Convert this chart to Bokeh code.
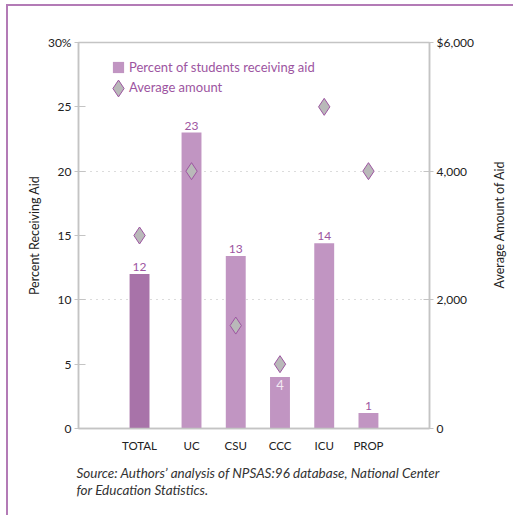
import math
from bokeh.plotting import figure
from bokeh.models import (FactorRange, Range1d, LinearAxis, FixedTicker, Legend, LegendItem,
                          ColumnDataSource, Title, Label)
from bokeh.core.properties import value
from bokeh.embed import file_html
from bokeh.resources import INLINE

# ---- data ----
categories = ["TOTAL", "UC", "CSU", "CCC", "ICU", "PROP"]
pct_receiving = [12, 23, 13.4, 4, 14.4, 1.2]
avg_amount = [3000, 4000, 1600, 1000, 5000, 4000]
pct_ticks = [0, 5, 10, 15, 20, 25, 30]
amount_ticks = [0, 2000, 4000, 6000]
pct_tick_labels = {30: "30%"}
amount_tick_labels = {0: "0", 2000: "2,000", 4000: "4,000", 6000: "$6,000"}
inside_label_cats = ["CCC"]
series_names = ["Percent of students receiving aid", "Average amount"]
axis_titles = ["Percent Receiving Aid", "Average Amount of Aid"]
source_note = "Source:  Authors\u2019 analysis of NPSAS:96 database, National Center\nfor Education Statistics."

FONT = "Lato"
PURPLE_TXT = "#9d55a1"
BAR = "#c195c2"
BAR_TOTAL = "#a873a9"
AXIS_GRAY = "#c4c4c4"
FRAME_PURPLE = "#b37bb6"

groups = ["" if c == "TOTAL" else " " for c in categories]
factors = list(zip(groups, categories))

p = figure(width=507, height=511,
           x_range=FactorRange(factors=factors, group_padding=0.175,
                               range_padding=0.88, range_padding_units="absolute"),
           y_range=Range1d(0, 30),
           output_backend="svg", toolbar_location=None,
           min_border_left=70, min_border_right=86, min_border_top=36, min_border_bottom=89,
           styles={"margin-left": "6px", "margin-top": "4px",
                   "border-left": f"2px solid {FRAME_PURPLE}",
                   "border-top": f"2px solid {FRAME_PURPLE}"})
p.extra_y_ranges = {"amt": Range1d(0, 6000)}

p.outline_line_color = AXIS_GRAY
p.outline_line_width = 1.5
p.background_fill_color = "white"
p.border_fill_color = "white"

colors = [BAR_TOTAL if c == "TOTAL" else BAR for c in categories]
labels_out = ["" if c in inside_label_cats else str(int(round(v))) for c, v in zip(categories, pct_receiving)]
labels_in = [str(int(round(v))) if c in inside_label_cats else "" for c, v in zip(categories, pct_receiving)]

src = ColumnDataSource(dict(x=factors, pct=pct_receiving, amt=avg_amount, color=colors,
                            lo=labels_out, li=labels_in))

bars = p.vbar(x="x", top="pct", width=0.45, source=src, fill_color="color", line_color=None)

p.text(x="x", y="pct", text="lo", source=src, text_align="center", text_baseline="bottom",
       y_offset=-3, text_color=PURPLE_TXT, text_font=value(FONT), text_font_size="12px")
p.text(x="x", y="pct", text="li", source=src, text_align="center", text_baseline="top",
       y_offset=3, text_color="#f3eaf3", text_font=value(FONT), text_font_size="13px")

dia = p.scatter(x="x", y="amt", source=src, y_range_name="amt", marker="diamond", size=17,
                fill_color="#b9b9b9", line_color="#9d55a1", line_width=1)
# empty renderer: used only so a legend row can show text without a glyph
text_only = p.scatter(x=[], y=[], size=0, fill_alpha=0, line_alpha=0)

# axes
p.xaxis.major_tick_line_color = None
p.xaxis.minor_tick_line_color = None
p.xaxis.axis_line_color = AXIS_GRAY
p.xaxis.axis_line_width = 1.5
p.xaxis.major_label_text_font = FONT
p.xaxis.major_label_text_font_size = "11.5px"
p.xaxis.major_label_text_color = "#222222"
p.xaxis.major_label_standoff = 4
p.xaxis.group_text_alpha = 0
p.xaxis.group_text_font_size = "1px"
p.xaxis.separator_line_alpha = 0

ya = p.yaxis[0]
ya.ticker = FixedTicker(ticks=pct_ticks)
ya.major_label_overrides = pct_tick_labels
ya.minor_tick_line_color = None
ya.major_tick_in = 7
ya.major_tick_out = 4
ya.major_tick_line_color = AXIS_GRAY
ya.axis_line_color = AXIS_GRAY
ya.axis_line_width = 1.5
ya.major_label_standoff = 3
ya.major_label_text_font = FONT
ya.major_label_text_font_size = "12px"
ya.major_label_text_color = "#222222"
ya.axis_label = axis_titles[0]
ya.axis_label_text_font = FONT
ya.axis_label_text_font_size = "12.5px"
ya.axis_label_text_font_style = "normal"
ya.axis_label_text_color = "#222222"
ya.axis_label_standoff = 3

ra = LinearAxis(y_range_name="amt", ticker=FixedTicker(ticks=amount_ticks))
ra.major_label_overrides = amount_tick_labels
ra.minor_tick_line_color = None
ra.major_tick_in = 6
ra.major_tick_out = 4
ra.major_tick_line_color = AXIS_GRAY
ra.axis_line_color = AXIS_GRAY
ra.axis_line_width = 1.5
ra.major_label_standoff = 3
ra.major_label_text_font = FONT
ra.major_label_text_font_size = "12px"
ra.major_label_text_color = "#222222"
p.add_layout(ra, "right")

# right axis title as a rotated label placed in the right side panel
p.add_layout(Label(x=489, y=216, x_units="canvas", y_units="canvas", text=axis_titles[1],
                   angle=math.pi / 2, text_align="center", text_baseline="middle",
                   text_font=FONT, text_font_size="12.5px", text_color="#222222"), "right")

p.xgrid.grid_line_color = None
p.ygrid.ticker = FixedTicker(ticks=[10, 20])
p.ygrid.grid_line_color = "#b8b8b8"
p.ygrid.grid_line_dash = "1 5"
p.ygrid.grid_line_width = 1

# legends
common = dict(padding=0, margin=0, spacing=0, border_line_color=None, background_fill_alpha=0,
              label_text_font=FONT, label_text_font_size="13px", label_text_color=PURPLE_TXT,
              label_height=14)
leg1 = Legend(items=[LegendItem(label=series_names[0], renderers=[bars], index=1)],
              location=(33, 353), glyph_width=14, glyph_height=14, label_standoff=4, **common)
leg2 = Legend(items=[LegendItem(label=" ", renderers=[dia])],
              location=(19, 319), glyph_width=42, glyph_height=42, label_standoff=0, **common)
leg3 = Legend(items=[LegendItem(label=series_names[1], renderers=[text_only])],
              location=(33, 333), glyph_width=14, glyph_height=14, label_standoff=4, **common)
p.add_layout(leg1)
p.add_layout(leg2)
p.add_layout(leg3)

# source note
p.add_layout(Title(text=source_note, align="left", offset=-2, standoff=16,
                   text_font=FONT, text_font_size="13.5px", text_font_style="italic",
                   text_color="#333333", text_line_height=1.1), "below")

open("out.html", "w").write(file_html(p, INLINE))
